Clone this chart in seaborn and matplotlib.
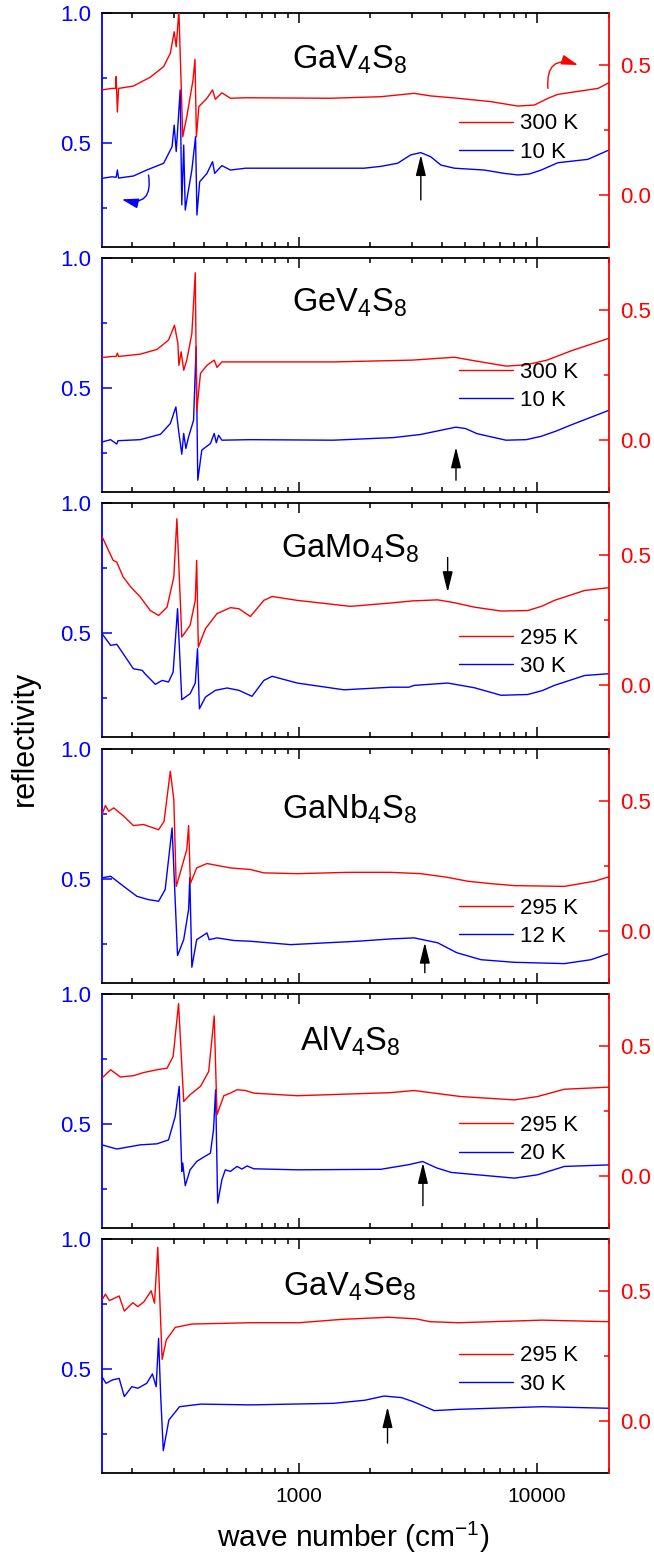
import matplotlib
matplotlib.use("Agg")
import matplotlib.pyplot as plt
from matplotlib.ticker import FixedLocator, FuncFormatter, NullFormatter, LogLocator
import seaborn as sns

# ---- data (wave number in cm^-1; hot curves in right-axis units, cold in left-axis units)
titles = [r"GaV$_\mathregular{4}$S$_\mathregular{8}$", r"GeV$_\mathregular{4}$S$_\mathregular{8}$",
          r"GaMo$_\mathregular{4}$S$_\mathregular{8}$", r"GaNb$_\mathregular{4}$S$_\mathregular{8}$",
          r"AlV$_\mathregular{4}$S$_\mathregular{8}$", r"GaV$_\mathregular{4}$Se$_\mathregular{8}$"]
hot_labels = ["300 K", "300 K", "295 K", "295 K", "295 K", "295 K"]
cold_labels = ["10 K", "10 K", "30 K", "12 K", "20 K", "30 K"]

gav4s8_hot_wn = [150, 165, 171, 172, 174, 176, 203, 239, 272, 290, 301, 307, 315, 327, 340, 361, 368, 373, 382,
                 413, 436, 448, 477, 518, 600, 1360, 2210, 3050, 3580, 4640, 6400, 8300, 9740, 11100, 12200,
                 18000, 20000]
gav4s8_hot_r = [0.404, 0.41, 0.41, 0.455, 0.319, 0.41, 0.419, 0.453, 0.494, 0.545, 0.628, 0.57, 0.71, 0.224, 0.301,
                0.442, 0.522, 0.224, 0.34, 0.372, 0.404, 0.368, 0.393, 0.372, 0.374, 0.372, 0.378, 0.391, 0.381,
                0.372, 0.359, 0.342, 0.346, 0.372, 0.387, 0.41, 0.432]
gav4s8_cold_wn = [150, 165, 172, 174, 176, 203, 231, 272, 295, 301, 307, 319, 324, 330, 335, 340, 357, 370, 375, 385,
                  413, 436, 445, 477, 518, 600, 1360, 1880, 2210, 2600, 2950, 3250, 3580, 3950, 4500, 6000, 7280,
                  8300, 9300, 10400, 12200, 16300, 20000]
gav4s8_cold_r = [0.364, 0.37, 0.368, 0.396, 0.365, 0.373, 0.396, 0.422, 0.486, 0.569, 0.467, 0.704, 0.262, 0.492,
                 0.242, 0.281, 0.396, 0.524, 0.223, 0.351, 0.383, 0.428, 0.383, 0.413, 0.396, 0.403, 0.403, 0.403,
                 0.41, 0.422, 0.454, 0.463, 0.447, 0.415, 0.403, 0.396, 0.383, 0.377, 0.381, 0.396, 0.424, 0.437,
                 0.473]

gev4s8_hot_wn = [150, 165, 172, 174, 176, 217, 255, 285, 302, 312, 315, 322, 330, 340, 357, 369, 374, 388, 413, 443,
                 455, 477, 628, 1400, 3000, 4500, 5500, 7400, 9000, 11000, 14000, 20000]
gev4s8_hot_r = [0.318, 0.322, 0.322, 0.335, 0.322, 0.331, 0.349, 0.385, 0.442, 0.372, 0.288, 0.34, 0.269, 0.308,
                0.41, 0.644, 0.109, 0.257, 0.288, 0.308, 0.28, 0.301, 0.301, 0.301, 0.308, 0.319, 0.305, 0.285,
                0.29, 0.308, 0.345, 0.392]
gev4s8_cold_wn = [150, 163, 173, 175, 217, 264, 290, 306, 314, 324, 330, 337, 346, 363, 372, 378, 393, 427, 443, 452,
                  462, 477, 628, 1400, 2500, 3250, 3800, 4560, 5000, 5600, 7400, 9000, 10400, 12000, 14000, 17000,
                  20000]
gev4s8_cold_r = [0.293, 0.302, 0.285, 0.298, 0.302, 0.323, 0.364, 0.428, 0.338, 0.246, 0.326, 0.268, 0.313, 0.377,
                 0.659, 0.146, 0.262, 0.287, 0.326, 0.29, 0.319, 0.3, 0.302, 0.3, 0.31, 0.322, 0.335, 0.35, 0.345,
                 0.325, 0.3, 0.302, 0.315, 0.335, 0.36, 0.39, 0.415]

gamo4s8_hot_wn = [150, 167, 173, 184, 197, 217, 239, 259, 281, 300, 309, 324, 351, 369, 374, 380, 407, 455, 518, 562,
                  628, 715, 775, 987, 1650, 2440, 3000, 3830, 4500, 5450, 7060, 9140, 10500, 11800, 15800, 20000]
gamo4s8_hot_r = [0.573, 0.481, 0.474, 0.417, 0.381, 0.34, 0.288, 0.269, 0.301, 0.417, 0.641, 0.186, 0.231, 0.327,
                 0.481, 0.147, 0.218, 0.276, 0.299, 0.295, 0.265, 0.327, 0.342, 0.327, 0.304, 0.317, 0.325, 0.329,
                 0.318, 0.301, 0.286, 0.288, 0.305, 0.327, 0.365, 0.376]
gamo4s8_cold_wn = [150, 163, 173, 184, 203, 221, 227, 251, 268, 285, 298, 311, 324, 351, 369, 377, 384, 407, 448, 502,
                   562, 638, 715, 775, 987, 1550, 2440, 2900, 3050, 4220, 5450, 7060, 9140, 10500, 11800, 15800,
                   20000]
gamo4s8_cold_r = [0.499, 0.454, 0.458, 0.422, 0.364, 0.358, 0.345, 0.304, 0.319, 0.313, 0.351, 0.595, 0.245, 0.268,
                  0.309, 0.441, 0.21, 0.255, 0.281, 0.29, 0.281, 0.258, 0.319, 0.335, 0.309, 0.283, 0.293, 0.293,
                  0.3, 0.309, 0.291, 0.262, 0.265, 0.28, 0.3, 0.338, 0.345]

ganb4s8_hot_wn = [150, 155, 160, 168, 185, 203, 224, 259, 273, 290, 300, 307, 319, 340, 346, 352, 374, 413, 518, 628,
                  715, 987, 1600, 2440, 3250, 4200, 5100, 6500, 8030, 13000, 17400, 20000]
ganb4s8_hot_r = [0.446, 0.481, 0.459, 0.472, 0.44, 0.404, 0.408, 0.388, 0.42, 0.613, 0.504, 0.17, 0.222, 0.312,
                 0.404, 0.181, 0.241, 0.258, 0.241, 0.235, 0.222, 0.219, 0.224, 0.224, 0.219, 0.205, 0.19, 0.18,
                 0.173, 0.17, 0.19, 0.207]
ganb4s8_cold_wn = [150, 163, 185, 210, 235, 259, 276, 295, 311, 330, 346, 350, 357, 374, 413, 422, 455, 534, 628, 926,
                   1760, 2440, 3050, 3830, 4600, 5820, 8030, 13000, 16800, 20000]
ganb4s8_cold_r = [0.503, 0.509, 0.47, 0.432, 0.419, 0.413, 0.458, 0.695, 0.204, 0.265, 0.381, 0.503, 0.159, 0.265,
                  0.291, 0.265, 0.272, 0.262, 0.259, 0.246, 0.259, 0.268, 0.272, 0.253, 0.215, 0.188, 0.178, 0.173,
                  0.188, 0.212]

alv4s8_hot_wn = [150, 163, 179, 203, 224, 255, 281, 298, 314, 330, 351, 388, 420, 443, 455, 486, 518, 552, 599, 649,
                 987, 2440, 3050, 4770, 8030, 10050, 13000, 20000]
alv4s8_hot_r = [0.376, 0.408, 0.38, 0.385, 0.397, 0.408, 0.414, 0.459, 0.662, 0.286, 0.312, 0.344, 0.401, 0.615,
                0.235, 0.308, 0.318, 0.331, 0.328, 0.318, 0.308, 0.32, 0.328, 0.305, 0.292, 0.305, 0.333, 0.341]
alv4s8_cold_wn = [150, 173, 217, 255, 285, 304, 316, 324, 327, 335, 351, 374, 400, 427, 440, 449, 458, 477, 493, 518,
                  552, 579, 608, 649, 987, 2210, 2900, 3310, 3800, 4360, 8030, 10050, 13000, 20000]
alv4s8_cold_r = [0.419, 0.403, 0.419, 0.423, 0.438, 0.528, 0.644, 0.317, 0.349, 0.262, 0.323, 0.355, 0.372, 0.387,
                 0.477, 0.631, 0.195, 0.285, 0.323, 0.317, 0.336, 0.326, 0.338, 0.327, 0.323, 0.325, 0.343, 0.355,
                 0.33, 0.313, 0.291, 0.304, 0.336, 0.342]

gav4se8_hot_wn = [150, 155, 161, 177, 186, 202, 212, 225, 241, 249, 257, 268, 279, 304, 357, 628, 1000, 1520, 2380,
                  3100, 3560, 4700, 10500, 20000]
gav4se8_hot_r = [0.465, 0.488, 0.463, 0.481, 0.423, 0.455, 0.44, 0.459, 0.501, 0.453, 0.668, 0.237, 0.312, 0.36,
                 0.373, 0.378, 0.378, 0.391, 0.399, 0.393, 0.382, 0.378, 0.388, 0.382]
gav4se8_cold_wn = [150, 156, 166, 177, 186, 200, 212, 231, 244, 253, 259, 264, 271, 286, 317, 388, 628, 1400, 1900,
                   2280, 2700, 3030, 3700, 4700, 10500, 20000]
gav4se8_cold_r = [0.47, 0.445, 0.458, 0.464, 0.394, 0.432, 0.426, 0.445, 0.481, 0.432, 0.618, 0.406, 0.186, 0.304,
                  0.355, 0.365, 0.362, 0.368, 0.38, 0.396, 0.39, 0.374, 0.34, 0.345, 0.355, 0.349]

hot = [(gav4s8_hot_wn, gav4s8_hot_r), (gev4s8_hot_wn, gev4s8_hot_r), (gamo4s8_hot_wn, gamo4s8_hot_r),
       (ganb4s8_hot_wn, ganb4s8_hot_r), (alv4s8_hot_wn, alv4s8_hot_r), (gav4se8_hot_wn, gav4se8_hot_r)]
cold = [(gav4s8_cold_wn, gav4s8_cold_r), (gev4s8_cold_wn, gev4s8_cold_r), (gamo4s8_cold_wn, gamo4s8_cold_r),
        (ganb4s8_cold_wn, ganb4s8_cold_r), (alv4s8_cold_wn, alv4s8_cold_r), (gav4se8_cold_wn, gav4se8_cold_r)]

# arrows marking the mid-infrared feature: (wave number, tail, tip) in left-axis units
arrow_wn = [3254, 4568, 4215, 3381, 3320, 2359]
arrow_tail = [0.281, 0.146, 0.792, 0.138, 0.185, 0.215]
arrow_tip = [0.454, 0.273, 0.658, 0.254, 0.35, 0.354]

# layout helpers (pixels from panel top)
title_base = [55, 53, 54, 70, 56, 56]
legend_mid = [125, 128, 149, 174, 146, 131]

sns.set_theme(style="ticks")
plt.rcParams["font.family"] = ["Liberation Sans", "DejaVu Sans"]
plt.rcParams["mathtext.fontset"] = "custom"
plt.rcParams["mathtext.rm"] = "Liberation Sans"
plt.rcParams["axes.linewidth"] = 1.3
plt.rcParams["text.color"] = "black"
plt.rcParams["axes.labelcolor"] = "black"

fig = plt.figure(figsize=(6.54, 15.58), dpi=100)
axes = fig.subplots(6, 1, sharex=True)
fig.subplots_adjust(left=102 / 654, right=609 / 654, top=1 - 13 / 1558, bottom=1 - 1473 / 1558, hspace=0.048)

panel_h = 234.0
twins = []
for i, ax in enumerate(axes):
    tw = ax.twinx()
    twins.append(tw)
    sns.lineplot(x=cold[i][0], y=cold[i][1], ax=ax, color="blue", lw=1.0, estimator=None, sort=False)
    sns.lineplot(x=hot[i][0], y=hot[i][1], ax=tw, color="red", lw=1.0, estimator=None, sort=False)

    ax.set_xscale("log")
    ax.set_xlim(150, 20000)
    ax.set_ylim(0.1, 1.0)
    tw.set_ylim(-0.2, 0.7)
    ax.set_ylabel("")
    tw.set_ylabel("")

    ax.xaxis.set_major_locator(LogLocator(base=10))
    ax.xaxis.set_minor_locator(LogLocator(base=10, subs=range(2, 10)))
    ax.xaxis.set_major_formatter(FuncFormatter(lambda v, p: f"{v:.0f}"))
    ax.xaxis.set_minor_formatter(NullFormatter())

    ax.yaxis.set_major_locator(FixedLocator([0.5, 1.0]))
    ax.yaxis.set_minor_locator(FixedLocator([0.25, 0.75]))
    ax.yaxis.set_major_formatter(FuncFormatter(lambda v, p: f"{v:.1f}"))
    tw.yaxis.set_major_locator(FixedLocator([0.0, 0.5]))
    tw.yaxis.set_minor_locator(FixedLocator([0.25]))
    tw.yaxis.set_major_formatter(FuncFormatter(lambda v, p: f"{v:.1f}"))

    ax.tick_params(axis="x", which="both", direction="in", top=True, bottom=True, colors="black",
                   labelsize=15, pad=10, width=1.1)
    ax.tick_params(axis="x", which="major", length=7)
    ax.tick_params(axis="x", which="minor", length=3.5)
    ax.tick_params(axis="y", which="both", direction="in", colors="blue", labelsize=16, pad=8, width=1.1)
    ax.tick_params(axis="y", which="major", length=7.5)
    ax.tick_params(axis="y", which="minor", length=3.5)
    tw.tick_params(axis="y", which="both", direction="in", colors="red", labelsize=16, pad=8, width=1.1)
    tw.tick_params(axis="y", which="major", length=7.5)
    tw.tick_params(axis="y", which="minor", length=3.5)

    ax.spines["left"].set_color("blue")
    ax.spines["right"].set_visible(False)
    tw.spines["right"].set_color("red")
    tw.spines["left"].set_visible(False)
    for s in ["top", "bottom"]:
        ax.spines[s].set_color("black")
        tw.spines[s].set_visible(False)

    ax.text(0.489, 1 - title_base[i] / panel_h, titles[i], transform=ax.transAxes, ha="center",
            va="baseline", fontsize=23.5, color="black")

    red_line = tw.get_lines()[0]
    blue_line = ax.get_lines()[0]
    tw.legend([red_line, blue_line], [hot_labels[i], cold_labels[i]], loc="center left",
              bbox_to_anchor=(0.704, 1 - legend_mid[i] / panel_h), frameon=False, fontsize=16,
              handlelength=2.45, handletextpad=0.3, labelspacing=0.33, borderpad=0, borderaxespad=0,
              labelcolor="black")

    ax.annotate("", xy=(arrow_wn[i], arrow_tip[i]), xytext=(arrow_wn[i], arrow_tail[i]),
                arrowprops=dict(arrowstyle="-|>,head_length=0.9,head_width=0.22", color="black", lw=1.0,
                                mutation_scale=14, shrinkA=0, shrinkB=0))

# curved arrows showing which axis each curve belongs to (top panel)
axes[0].annotate("", xy=(181.6, 0.283), xytext=(235, 0.377),
                 arrowprops=dict(arrowstyle="-|>,head_length=1.0,head_width=0.3", color="blue", lw=1.0,
                                 mutation_scale=10, shrinkA=0, shrinkB=0, connectionstyle="arc3,rad=-0.75"))
twins[0].annotate("", xy=(14830, 0.5), xytext=(11092, 0.41),
                  arrowprops=dict(arrowstyle="-|>,head_length=1.0,head_width=0.3", color="red", lw=1.0,
                                  mutation_scale=10, shrinkA=0, shrinkB=0, connectionstyle="arc3,rad=-0.75"))

fig.text(25 / 654, 1 - 738 / 1558, "reflectivity", rotation=90, ha="center", va="center", fontsize=22)
fig.text(353 / 654, 1 - 1537 / 1558, r"wave number (cm$^\mathregular{-1}$)", ha="center", va="center",
         fontsize=21.5)

fig.savefig("out.png", dpi=100)
